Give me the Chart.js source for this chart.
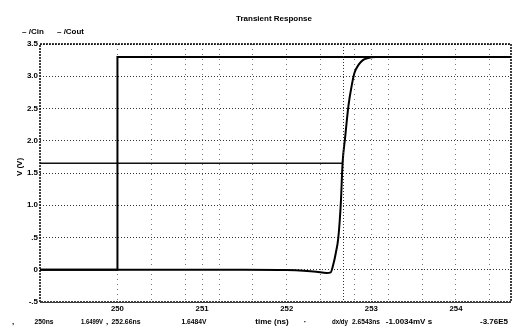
<!DOCTYPE html>
<html>
<head>
<meta charset="utf-8">
<script src="https://cdn.jsdelivr.net/npm/chart.js@4"></script>
<style>
  html, body { margin: 0; padding: 0; background: #fff; }
  #wrap { width: 520px; height: 328px; position: relative; }
</style>
</head>
<body>
<div id="wrap"><canvas id="chart" width="520" height="328"></canvas></div>
<script>
// time axis in ns, voltages in V
const vinTime = [249.085, 250.0, 250.0, 254.65];
const vinVolt = [0, 0, 3.3, 3.3];

const voutTime = [249.085, 251.5, 252.0, 252.2, 252.35, 252.47, 252.52, 252.55, 252.58, 252.61, 252.64, 252.66, 252.69, 252.73, 252.77, 252.8, 252.85, 252.9, 252.95, 253.05, 254.65];
const voutVolt = [0, 0, -0.005, -0.015, -0.03, -0.05, -0.04, 0.08, 0.26, 0.5, 1.05, 1.65, 2.05, 2.55, 2.87, 3.05, 3.18, 3.25, 3.28, 3.3, 3.3];

const cursorTime = [249.085, 252.66];
const cursorVolt = [1.65, 1.65];

const yTicks = [-0.5, 0, 0.5, 1.0, 1.5, 2.0, 2.5, 3.0, 3.5];
const yTickLabels = ['-.5', '0', '.5', '1.0', '1.5', '2.0', '2.5', '3.0', '3.5'];
const xTicks = [250, 251, 252, 253, 254];
const xTickLabels = ['250', '251', '252', '253', '254'];
const xMinorStep = 0.4;

const legendNames = ['/Cin', '/Cout'];
const cursorReadout = [',', '250ns', '1.6499V', ',', '252.66ns', '1.6484V'];
const deltaReadout = ['dx/dy', '2.6543ns', '-1.0034mV', 's', '-3.76E5'];

const toPoints = (xs, ys) => xs.map((x, i) => ({ x: x, y: ys[i] }));

function label(ctx, text, x, y, w, align) {
    ctx.textAlign = align || 'center';
    ctx.fillText(text, x, y, w);
}

const textPlugin = {
    id: 'textPlugin',
    afterDraw(chart) {
        const ctx = chart.ctx;
        const area = chart.chartArea;
        const xs = chart.scales.x;
        const ys = chart.scales.y;
        ctx.save();

        // frame
        ctx.strokeStyle = '#000';
        ctx.lineWidth = 1.5;
        ctx.setLineDash([2, 1]);
        ctx.strokeRect(area.left, area.top, area.right - area.left, area.bottom - area.top);
        ctx.setLineDash([]);

        // cursor vertical line
        const cx = Math.round(xs.getPixelForValue(cursorTime[1])) + 0.5;
        ctx.strokeStyle = '#333';
        ctx.lineWidth = 1;
        ctx.setLineDash([1, 2]);
        ctx.beginPath();
        ctx.moveTo(cx, area.top);
        ctx.lineTo(cx, area.bottom);
        ctx.stroke();
        ctx.setLineDash([]);

        ctx.fillStyle = '#000';
        ctx.textBaseline = 'middle';
        ctx.font = 'bold 8px "Liberation Sans", sans-serif';

        label(ctx, 'Transient Response', 274, 19, 82);
        label(ctx, '\u2013 ' + legendNames[0], 22, 32, 24, 'left');
        label(ctx, '\u2013 ' + legendNames[1], 57, 32, 27, 'left');

        // y ticks
        yTicks.forEach((v, i) => {
            label(ctx, yTickLabels[i], area.left - 2, ys.getPixelForValue(v), 12, 'right');
        });
        // x ticks
        xTicks.forEach((v, i) => {
            label(ctx, xTickLabels[i], xs.getPixelForValue(v), area.bottom + 7, 13);
        });

        ctx.save();
        ctx.translate(20, 167);
        ctx.rotate(-Math.PI / 2);
        label(ctx, 'V (V)', 0, 0, 26);
        ctx.restore();

        const by = 322;
        label(ctx, cursorReadout[0], 13, by, 4);
        label(ctx, cursorReadout[1], 44, by, 19);
        label(ctx, cursorReadout[2], 92, by, 22);
        label(ctx, cursorReadout[3], 107, by, 4);
        label(ctx, cursorReadout[4], 126, by, 29);
        label(ctx, cursorReadout[5], 194, by, 25);
        label(ctx, 'time (ns)', 272, by, 34);
        label(ctx, '\u00b7', 305, by, 4);
        label(ctx, deltaReadout[0], 340, by, 16);
        label(ctx, deltaReadout[1], 366, by, 28);
        label(ctx, deltaReadout[2] + ' ' + deltaReadout[3], 409, by, 52);
        label(ctx, deltaReadout[4], 494, by, 32);
        ctx.restore();
    }
};

new Chart(document.getElementById('chart').getContext('2d'), {
    type: 'line',
    data: {
        datasets: [
            {
                label: legendNames[0],
                data: toPoints(vinTime, vinVolt),
                borderColor: '#000',
                borderWidth: 2,
                pointRadius: 0
            },
            {
                label: legendNames[1],
                data: toPoints(voutTime, voutVolt),
                borderColor: '#000',
                borderWidth: 2,
                pointRadius: 0,
                cubicInterpolationMode: 'monotone'
            },
            {
                label: 'cursor',
                data: toPoints(cursorTime, cursorVolt),
                borderColor: '#111',
                borderWidth: 1.5,
                pointRadius: 0
            }
        ]
    },
    options: {
        responsive: false,
        animation: false,
        layout: { padding: { left: 40, right: 9, top: 44, bottom: 26 } },
        plugins: { legend: { display: false }, tooltip: { enabled: false } },
        scales: {
            x: {
                type: 'linear',
                min: 249.085,
                max: 254.65,
                afterBuildTicks(axis) {
                    const t = [];
                    for (let v = 250; v <= 254.4 + 1e-6; v += xMinorStep) t.push({ value: Math.round(v * 10) / 10 });
                    xTicks.forEach(v => { if (!t.find(k => k.value === v)) t.push({ value: v }); });
                    t.sort((a, b) => a.value - b.value);
                    axis.ticks = t;
                },
                afterFit(axis) { axis.height = 0; },
                ticks: { display: false },
                grid: {
                    drawTicks: false,
                    color: '#777',
                    lineWidth: 1
                },
                border: { display: false, dash: [1, 4] }
            },
            y: {
                type: 'linear',
                min: -0.5,
                max: 3.5,
                afterBuildTicks(axis) { axis.ticks = yTicks.map(v => ({ value: v })); },
                afterFit(axis) { axis.width = 0; },
                ticks: { display: false },
                grid: {
                    drawTicks: false,
                    color: '#333',
                    lineWidth: 1
                },
                border: { display: false, dash: [1, 2] }
            }
        }
    },
    plugins: [textPlugin]
});
</script>
</body>
</html>
